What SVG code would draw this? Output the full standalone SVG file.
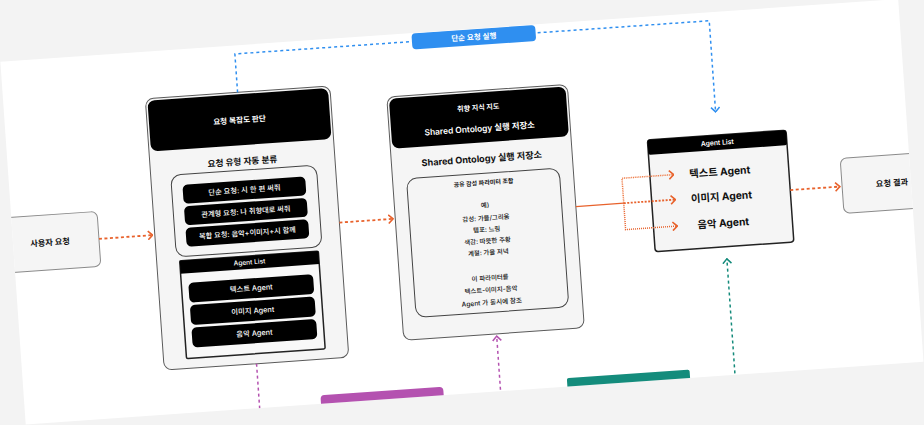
<svg xmlns="http://www.w3.org/2000/svg" width="924" height="425" viewBox="0 0 924 425">
<defs>
<style>
text{font-family:Inter,"Noto Sans CJK KR",sans-serif;text-anchor:middle;dominant-baseline:central}
.side{fill:#f5f5f5;stroke:#8a8a8a;stroke-width:1}
.big{fill:#f5f5f5;stroke:#5a5a5a;stroke-width:1}
.hdr{fill:#000}
.inner{fill:#f5f5f5;stroke:#444;stroke-width:1}
.pill{fill:#000}
.wt{fill:#fff}
.bk{fill:#111}
.or{fill:none;stroke:#e8622c;stroke-width:1.8;stroke-dasharray:3 2.5}
.bl{fill:none;stroke:#2f8ff0;stroke-width:1.5;stroke-dasharray:3 3}
.pk{fill:none;stroke:#b452b0;stroke-width:1.5;stroke-dasharray:3 3}
.tl{fill:none;stroke:#138a7a;stroke-width:1.5;stroke-dasharray:3 3}
</style>
<marker id="mo" viewBox="0 0 6 10" refX="5.5" refY="5" markerWidth="6" markerHeight="10" orient="auto" markerUnits="userSpaceOnUse"><path d="M0.7,0.7 L5.3,5 L0.7,9.3" fill="none" stroke="#e8622c" stroke-width="1.6"/></marker>
<marker id="mb" viewBox="0 0 6 10" refX="5.5" refY="5" markerWidth="6" markerHeight="10" orient="auto" markerUnits="userSpaceOnUse"><path d="M0.7,0.7 L5.3,5 L0.7,9.3" fill="none" stroke="#2f8ff0" stroke-width="1.5"/></marker>
<marker id="mp" viewBox="0 0 6 10" refX="5.5" refY="5" markerWidth="6" markerHeight="10" orient="auto" markerUnits="userSpaceOnUse"><path d="M0.7,0.7 L5.3,5 L0.7,9.3" fill="none" stroke="#b452b0" stroke-width="1.5"/></marker>
<marker id="mt" viewBox="0 0 6 10" refX="5.5" refY="5" markerWidth="6" markerHeight="10" orient="auto" markerUnits="userSpaceOnUse"><path d="M0.7,0.7 L5.3,5 L0.7,9.3" fill="none" stroke="#138a7a" stroke-width="1.5"/></marker>
<clipPath id="card"><rect x="12" y="30" width="900" height="363.5"/></clipPath>
</defs>
<rect width="924" height="425" fill="#f3f3f3"/>
<g transform="rotate(-4 462 212.5)">
<rect x="12" y="30" width="900" height="363.5" fill="#fff"/>
<g clip-path="url(#card)">
<g id="user-request">
<rect class="side" x="0" y="186" width="98" height="55" rx="6"/>
<text x="49" y="213.5" class="bk" font-size="8.2" font-weight="600">사용자 요청</text>
</g>
<g id="complexity">
<rect class="big" x="154" y="77" width="185" height="272" rx="8"/>
<rect class="hdr" x="156" y="79" width="181" height="51" rx="7"/>
<text x="246.5" y="105" class="wt" font-size="7.6" font-weight="600">요청 복잡도 판단</text>
<text x="246.5" y="146.5" class="bk" font-size="8.7" font-weight="700">요청 유형 자동 분류</text>
<rect class="inner" x="174" y="155" width="146" height="82" rx="10"/>
<rect class="pill" x="185" y="165.5" width="123" height="19" rx="5"/>
<text x="246.5" y="175" class="wt" font-size="7.3" font-weight="500">단순 요청: 시 한 편 써줘</text>
<rect class="pill" x="185" y="187" width="123" height="19" rx="5"/>
<text x="246.5" y="196.5" class="wt" font-size="7.2" font-weight="500">관계형 요청: 나 취향대로 써줘</text>
<rect class="pill" x="185" y="208.5" width="123" height="19" rx="5"/>
<text x="246.5" y="218" class="wt" font-size="7.2" font-weight="500">복합 요청: 음악+이미지+시 함께</text>
<rect x="177" y="241" width="139" height="98" fill="#f8f8f8" stroke="#222" stroke-width="1.5" rx="1.5"/>
<rect class="hdr" x="177" y="241" width="139" height="13"/>
<text x="246.5" y="247.5" class="wt" font-size="6.6" font-weight="500">Agent List</text>
<rect class="pill" x="184" y="263.5" width="125" height="20" rx="5"/>
<text x="246.5" y="273.5" class="wt" font-size="7.3" font-weight="500">텍스트 Agent</text>
<rect class="pill" x="184" y="286" width="125" height="20" rx="5"/>
<text x="246.5" y="296" class="wt" font-size="7.3" font-weight="500">이미지 Agent</text>
<rect class="pill" x="184" y="308.5" width="125" height="20" rx="5"/>
<text x="246.5" y="318.5" class="wt" font-size="7.3" font-weight="500">음악 Agent</text>
</g>
<g id="ontology">
<rect class="big" x="395" y="92" width="181" height="244" rx="8"/>
<rect class="hdr" x="397" y="94" width="177" height="50" rx="7"/>
<text x="485.5" y="109" class="wt" font-size="7" font-weight="600">취향 지식 지도</text>
<text x="485.5" y="130" class="wt" font-size="8.4" font-weight="600">Shared Ontology 실행 저장소</text>
<text x="485.5" y="160" class="bk" font-size="9.1" font-weight="700">Shared Ontology 실행 저장소</text>
<rect class="inner" x="409" y="175" width="153" height="139" rx="10"/>
<text x="485.5" y="184" class="bk" font-size="6" font-weight="600">공유 감성 파라미터 조합</text>
<text x="485.5" y="207" class="bk" font-size="6.4" font-weight="500">예)</text>
<text x="485.5" y="220" class="bk" font-size="6.4" font-weight="500">감성: 가을/그리움</text>
<text x="485.5" y="231.5" class="bk" font-size="6.4" font-weight="500">템포: 느림</text>
<text x="485.5" y="243" class="bk" font-size="6.4" font-weight="500">색감: 따뜻한 주황</text>
<text x="485.5" y="254.5" class="bk" font-size="6.4" font-weight="500">계절: 가을 저녁</text>
<text x="485.5" y="280" class="bk" font-size="6.4" font-weight="500">이 파라미터를</text>
<text x="485.5" y="292" class="bk" font-size="6.4" font-weight="500">텍스트-이미지-음악</text>
<text x="485.5" y="304.5" class="bk" font-size="6.6" font-weight="500">Agent 가 동시에 참조</text>
</g>
<g id="agent-list">
<rect x="652" y="153" width="139" height="112" rx="3" fill="#f5f5f5" stroke="#222" stroke-width="1.5"/>
<rect class="hdr" x="652" y="153" width="139" height="15" rx="2"/>
<text x="721.5" y="160.5" class="wt" font-size="6.8" font-weight="600">Agent List</text>
<text x="722" y="189.5" class="bk" font-size="10.3" font-weight="700">텍스트 Agent</text>
<text x="722" y="214.5" class="bk" font-size="10.3" font-weight="700">이미지 Agent</text>
<text x="722" y="241" class="bk" font-size="10.3" font-weight="700">음악 Agent</text>
</g>
<g id="result">
<rect class="side" x="843" y="185" width="100" height="55" rx="6"/>
<text x="893" y="213" class="bk" font-size="8.2" font-weight="600">요청 결과</text>
</g>
<g id="connectors">
<path class="or" d="M98,213.5 H152" marker-end="url(#mo)"/>
<path class="or" d="M339,214 H393" marker-end="url(#mo)"/>
<path d="M576,214.5 H624" fill="none" stroke="#e8622c" stroke-width="1.3"/>
<path d="M624,214.5 V189.5 H676" fill="none" stroke="#ee7a45" stroke-width="1.5" stroke-dasharray="1 0.8" marker-end="url(#mo)"/>
<path d="M624,214.5 H676" fill="none" stroke="#e8622c" stroke-width="1.8" stroke-dasharray="2 1.5" marker-end="url(#mo)"/>
<path d="M624,214.5 V241 H676" fill="none" stroke="#e8622c" stroke-width="1.5" stroke-dasharray="1 1" marker-end="url(#mo)"/>
<path class="or" d="M791,213 H841" marker-end="url(#mo)"/>
<path class="bl" d="M246.5,77 V38.5 H722 V130" marker-end="url(#mb)"/>
<path class="pk" d="M246.5,349 V410"/>
<path class="pk" d="M488,410 V338" marker-end="url(#mp)"/>
<path class="tl" d="M723,410 V277" marker-end="url(#mt)"/>
</g>
<g id="label-simple">
<rect x="424" y="30.5" width="124" height="16" rx="4" fill="#2f8ff0"/>
<text x="486" y="38.5" class="wt" font-size="7.5" font-weight="600">단순 요청 실행</text>
</g>
<g id="label-pink"><rect x="308" y="385" width="123" height="16" rx="4" fill="#b452b0"/></g>
<g id="label-teal"><rect x="555" y="385" width="123" height="16" rx="2" fill="#148c7c"/></g>
</g>
</g>
</svg>
